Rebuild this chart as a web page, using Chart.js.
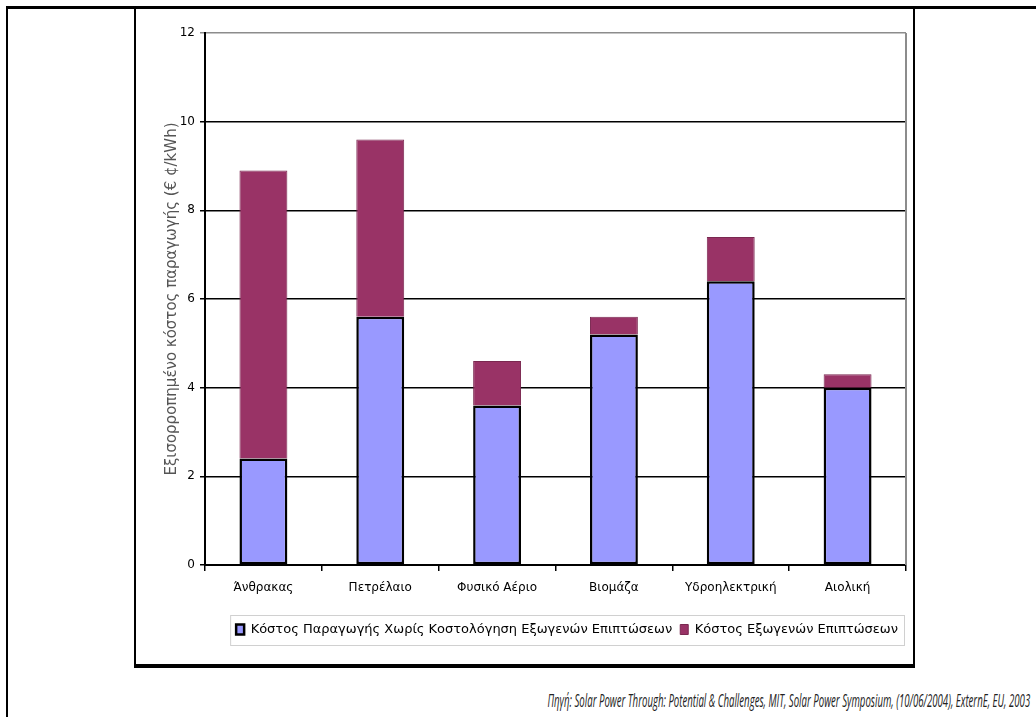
<!DOCTYPE html>
<html>
<head>
<meta charset="utf-8">
<script src="https://cdn.jsdelivr.net/npm/chart.js@4"></script>
<style>
  html, body { margin: 0; padding: 0; background: #fff; }
  body { width: 1036px; height: 717px; position: relative; overflow: hidden; }
  .line { position: absolute; background: #000; }
  #chartBox {
    position: absolute; left: 134px; top: 7px; width: 781px; height: 661px;
    box-sizing: border-box; border: 2px solid #000; border-bottom-width: 4px;
  }
  #wrap { position: absolute; left: 136px; top: 9px; width: 777px; height: 656px; }
  #source {
    position: absolute; right: 6px; top: 688px; white-space: nowrap;
    font-family: "Open Sans", sans-serif; font-style: italic; font-size: 18px;
    color: #222; transform: scaleX(0.535); transform-origin: right center;
  }
</style>
</head>
<body>
<div class="line" style="left:7px;top:6px;width:1029px;height:3px"></div>
<div class="line" style="left:6px;top:6px;width:2px;height:711px"></div>
<div id="chartBox"></div>
<div id="wrap"><canvas id="costChart" width="777" height="656"></canvas></div>
<div id="source">Πηγή: Solar Power Through: Potential &amp; Challenges, MIT, Solar Power Symposium, (10/06/2004), ExternE, EU, 2003</div>

<script>
// data
const categories = ['Άνθρακας', 'Πετρέλαιο', 'Φυσικό Αέριο', 'Βιομάζα', 'Υδροηλεκτρική', 'Αιολική'];
const productionCost = [2.4, 5.6, 3.6, 5.2, 6.4, 4.0];
const externalCost = [6.5, 4.0, 1.0, 0.4, 1.0, 0.3];
const seriesNames = [
  'Κόστος Παραγωγής Χωρίς Κοστολόγηση Εξωγενών Επιπτώσεων',
  'Κόστος Εξωγενών Επιπτώσεων',
];
const yTitle = 'Εξισορροπημένο κόστος παραγωγής (€ ¢/kWh)';

const FONT = 'DejaVu Sans, Liberation Sans, sans-serif';

// gray frame on the right side of the plot + light box round the legend
const framePlugin = {
  id: 'frame',
  beforeDatasetsDraw(chart) {
    const { ctx, chartArea } = chart;
    ctx.save();
    ctx.strokeStyle = '#8c8c8c';
    ctx.lineWidth = 2;
    ctx.beginPath();
    ctx.moveTo(chartArea.right, chartArea.top);
    ctx.lineTo(chartArea.right, chartArea.bottom);
    ctx.stroke();
    ctx.restore();
  },
  afterDraw(chart) {
    const lg = chart.legend;
    if (!lg || !lg.legendHitBoxes.length) return;
    const boxes = lg.legendHitBoxes;
    const left = Math.min(...boxes.map(b => b.left)) - 6;
    const right = Math.max(...boxes.map(b => b.left + b.width)) + 6;
    const { ctx } = chart;
    ctx.save();
    ctx.strokeStyle = '#d0d0d0';
    ctx.lineWidth = 1;
    ctx.strokeRect(left + 0.5, lg.top + 0.5, right - left, lg.bottom - lg.top - 1);
    ctx.restore();
  },
};

new Chart(document.getElementById('costChart').getContext('2d'), {
  type: 'bar',
  data: {
    labels: categories,
    datasets: [
      {
        label: seriesNames[0],
        data: productionCost,
        backgroundColor: '#9999ff',
        borderColor: '#000',
        borderWidth: 2.5,
        borderSkipped: false,
      },
      {
        label: seriesNames[1],
        data: externalCost,
        backgroundColor: '#993366',
        borderColor: '#7a2850',
        borderWidth: 1,
        borderSkipped: 'start',
      },
    ],
  },
  options: {
    responsive: false,
    animation: false,
    layout: { padding: { top: 24, right: 7, bottom: 19, left: 0 } },
    datasets: { bar: { categoryPercentage: 1, barPercentage: 0.41 } },
    scales: {
      x: {
        stacked: true,
        afterFit: (s) => { s.height = 50; },
        grid: { offset: true, drawOnChartArea: false, color: '#000', lineWidth: 1.5, tickLength: 6 },
        border: { color: '#000', width: 2 },
        ticks: { color: '#000', font: { family: FONT, size: 12 }, padding: 10, maxRotation: 0 },
      },
      y: {
        stacked: true,
        min: 0,
        max: 12,
        afterFit: (s) => { s.width = 69; },
        ticks: { stepSize: 2, color: '#000', font: { family: FONT, size: 12 }, padding: 5 },
        grid: {
          color: (c) => (c.tick && c.tick.value === 12 ? '#8c8c8c' : '#000'),
          lineWidth: 1.5,
          tickLength: 5,
        },
        border: { color: '#000', width: 2 },
        title: {
          display: true,
          text: yTitle,
          color: '#555',
          font: { family: FONT, size: 15 },
          padding: { top: 27, bottom: 0 },
        },
      },
    },
    plugins: {
      legend: {
        position: 'bottom',
        align: 'end',
        labels: {
          color: '#000',
          font: { family: FONT, size: 13 },
          boxWidth: 8,
          boxHeight: 10,
          padding: 8,
        },
      },
      tooltip: { enabled: false },
    },
  },
  plugins: [framePlugin],
});
</script>
</body>
</html>
